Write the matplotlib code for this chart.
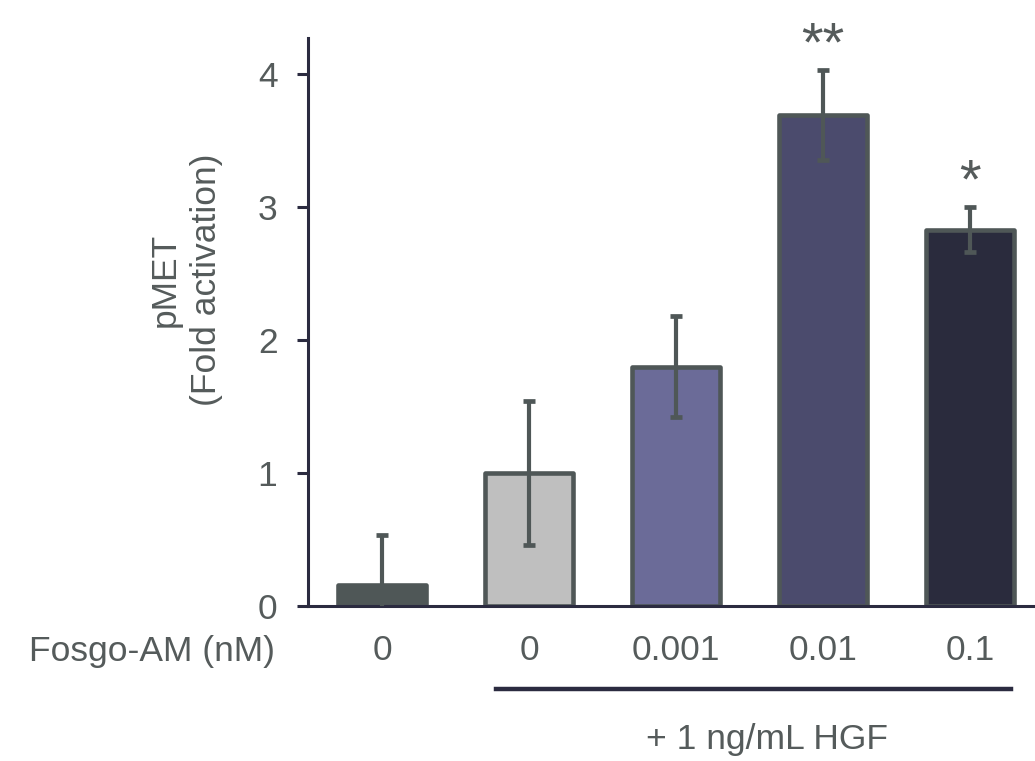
import numpy as np
import matplotlib
matplotlib.use("Agg")
import matplotlib.pyplot as plt

plt.rcParams['font.family'] = ['Liberation Sans', 'DejaVu Sans']

# Data
doses = ["0", "0", "0.001", "0.01", "0.1"]
fold = [0.16, 1.00, 1.80, 3.69, 2.83]
err = [0.37, 0.54, 0.38, 0.34, 0.17]
stars = ["", "", "", "**", "*"]
colors = ["#4F5757", "#BFBFBF", "#6B6B98", "#4B4B6D", "#2A2B3D"]

text_col = "#555B5B"
axis_col = "#2B2B40"
edge_col = "#4F5757"
fs = 25.5

fig = plt.figure(figsize=(10.35, 7.61), dpi=100)
ax = fig.add_axes([0.2976, 0.2037, 0.7024, 0.7463])

x = np.arange(len(fold))
ax.bar(x, fold, width=0.6, color=colors, edgecolor=edge_col,
       linewidth=3.3, joinstyle="round", zorder=2)
ax.errorbar(x, fold, yerr=err, fmt="none", ecolor=edge_col,
            elinewidth=3, capsize=4.3, capthick=3.4, zorder=3)

for xi, v, e, s in zip(x, fold, err, stars):
    if s:
        ax.text(xi, v + e + 0.07, s, ha="center", va="baseline",
                fontsize=40, color=text_col, clip_on=False)

ax.set_xlim(-0.503, 4.44)
ax.set_ylim(0, 4.27)
ax.set_yticks([0, 1, 2, 3, 4])
ax.set_xticks(x)
ax.set_xticklabels(doses)
ax.tick_params(axis="y", length=8, width=2.2, color=axis_col,
               labelsize=fs, labelcolor=text_col, pad=14)
ax.tick_params(axis="x", length=0, labelsize=fs, labelcolor=text_col, pad=20)

for side in ["top", "right"]:
    ax.spines[side].set_visible(False)
for side in ["left", "bottom"]:
    ax.spines[side].set_color(axis_col)
    ax.spines[side].set_linewidth(2.2)

# y label placed by hand (sits above the axis centre)
fig.text(186 / 1035, 1 - 280 / 761, "pMET\n(Fold activation)", rotation=90,
         ha="center", va="center", multialignment="center",
         fontsize=fs, color=text_col, linespacing=1.3)

# row label for the dose axis
fig.text(152 / 1035, 1 - 651 / 761, "Fosgo-AM (nM)", ha="center", va="center",
         fontsize=fs, color=text_col)

# HGF bracket line and label
fig.add_artist(plt.Line2D([496 / 1035, 1011 / 1035], [1 - 689 / 761, 1 - 689 / 761],
                          color=axis_col, linewidth=3.2))
fig.text(767 / 1035, 1 - 739 / 761, "+ 1 ng/mL HGF", ha="center", va="center",
         fontsize=fs, color=text_col)

fig.savefig("out.png", dpi=100)
